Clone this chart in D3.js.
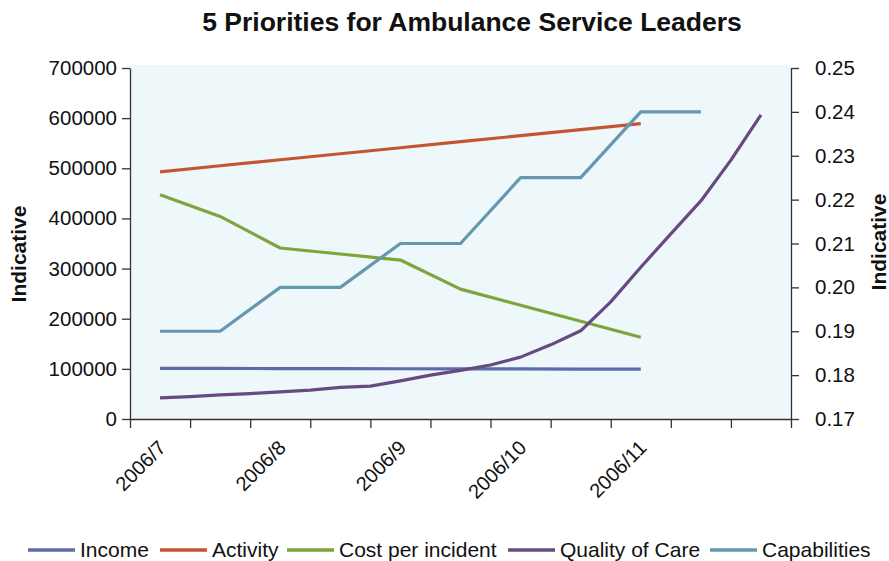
<!DOCTYPE html>
<html>
<head>
<meta charset="utf-8">
<script src="https://cdn.jsdelivr.net/npm/d3@7"></script>
<style>
  body { margin: 0; background: #fff; }
  svg { font-family: "Liberation Sans", Arial, Helvetica, sans-serif; }
</style>
</head>
<body>
<svg id="chart" width="889" height="561"></svg>
<script>
// ---- data ----
const title = "5 Priorities for Ambulance Service Leaders";
const monthLabels = ["2006/7", "2006/8", "2006/9", "2006/10", "2006/11"];
const categoryCount = 11; // half-month slots on the category axis
const leftTicks = [0, 100000, 200000, 300000, 400000, 500000, 600000, 700000];
const rightTicks = [0.17, 0.18, 0.19, 0.20, 0.21, 0.22, 0.23, 0.24, 0.25];

const income = [101000, 100800, 100600, 100400, 100200, 100000, 99800, 99600, 99500];
const activity = [493000, 505000, 517000, 529000, 541000, 553000, 565000, 577000, 589000];
const costPerIncident = [447000, 404000, 341000, 329000, 317000, 259000, 227000, 195000, 163000];
const capabilities = [0.19, 0.19, 0.20, 0.20, 0.21, 0.21, 0.225, 0.225, 0.24, 0.24];
const qualityOfCare = [0.1748, 0.1751, 0.1755, 0.1758, 0.1762, 0.1766, 0.1772, 0.1775, 0.1787, 0.1800,
  0.1811, 0.1823, 0.1841, 0.1869, 0.1901, 0.1967, 0.2046, 0.2122, 0.2197, 0.2290, 0.2393];

const seriesNames = ["Income", "Activity", "Cost per incident", "Quality of Care", "Capabilities"];
const seriesColors = ["#5d6ca8", "#c5552f", "#7ea53c", "#664a80", "#6598ae"];

// ---- layout ----
const svg = d3.select("#chart");
const L = 130, R = 791, T = 68, B = 419;

const x = d3.scaleLinear().domain([0, categoryCount]).range([L, R]);
const yL = d3.scaleLinear().domain([0, 700000]).range([B, T]);
const yR = d3.scaleLinear().domain([0.17, 0.25]).range([B, T]);

svg.append("rect").attr("x", L).attr("y", 65).attr("width", R - L).attr("height", B - 65)
  .attr("fill", "#eef7fa");

// title
svg.append("text").attr("x", 472).attr("y", 31).attr("text-anchor", "middle")
  .attr("font-size", 26.5).attr("font-weight", "bold").attr("fill", "#111").text(title);

// axes
const axisStyle = g => {
  g.selectAll(".domain").attr("stroke", "#333").attr("stroke-width", 1.3);
  g.selectAll(".tick line").attr("stroke", "#333").attr("stroke-width", 1.3);
  g.selectAll("text").attr("font-size", 20.5).attr("fill", "#111")
    .attr("font-family", "'Liberation Sans', Arial, sans-serif");
};

svg.append("g").attr("transform", `translate(${L},0)`)
  .call(d3.axisLeft(yL).tickValues(leftTicks).tickFormat(d3.format("d")).tickSize(8).tickSizeOuter(0).tickPadding(5))
  .call(axisStyle);

svg.append("g").attr("transform", `translate(${R},0)`)
  .call(d3.axisRight(yR).tickValues(rightTicks).tickFormat(d3.format(".2f")).tickSize(8).tickSizeOuter(0).tickPadding(16))
  .call(axisStyle);

svg.append("g").attr("transform", `translate(0,${B})`)
  .call(d3.axisBottom(x).tickValues(d3.range(0, categoryCount + 1)).tickFormat("").tickSize(9).tickSizeOuter(0))
  .call(axisStyle);

// x labels (one per month, at every second category)
svg.append("g").selectAll("text").data(monthLabels).join("text")
  .attr("transform", (d, i) => `translate(${x(i * 2 + 0.5) + 7},449) rotate(-45)`)
  .attr("text-anchor", "end").attr("font-size", 20).attr("fill", "#111").text(d => d);

// axis titles
svg.append("text").attr("transform", "translate(26,254) rotate(-90)").attr("text-anchor", "middle")
  .attr("font-size", 21).attr("font-weight", "bold").attr("fill", "#111").text("Indicative");
svg.append("text").attr("transform", "translate(886,242) rotate(-90)").attr("text-anchor", "middle")
  .attr("font-size", 21).attr("font-weight", "bold").attr("fill", "#111").text("Indicative");

// lines
const lineL = d3.line().x(d => x(d.i)).y(d => yL(d.v));
const lineR = d3.line().x(d => x(d.i)).y(d => yR(d.v));
const monthly = arr => arr.map((v, i) => ({ i: i + 0.5, v }));
const halfly = arr => arr.map((v, i) => ({ i: 0.5 + i * 0.5, v }));

const drawn = [
  { data: monthly(income), gen: lineL, c: seriesColors[0] },
  { data: monthly(activity), gen: lineL, c: seriesColors[1] },
  { data: monthly(costPerIncident), gen: lineL, c: seriesColors[2] },
  { data: halfly(qualityOfCare), gen: lineR, c: seriesColors[3] },
  { data: monthly(capabilities), gen: lineR, c: seriesColors[4] }
];
// draw order: Quality beneath others similar to reference
[0, 1, 2, 4, 3].forEach(k => {
  const s = drawn[k];
  svg.append("path").attr("d", s.gen(s.data)).attr("fill", "none")
    .attr("stroke", s.c).attr("stroke-width", 3.2).attr("stroke-linejoin", "round");
});

// legend
const legendX = [28, 160, 287, 508, 710];
const lg = svg.append("g");
seriesNames.forEach((name, k) => {
  lg.append("line").attr("x1", legendX[k]).attr("x2", legendX[k] + 47)
    .attr("y1", 550).attr("y2", 550).attr("stroke", seriesColors[k]).attr("stroke-width", 3.5);
  lg.append("text").attr("x", legendX[k] + 52).attr("y", 557).attr("font-size", 21)
    .attr("fill", "#111").text(name);
});
</script>
</body>
</html>
